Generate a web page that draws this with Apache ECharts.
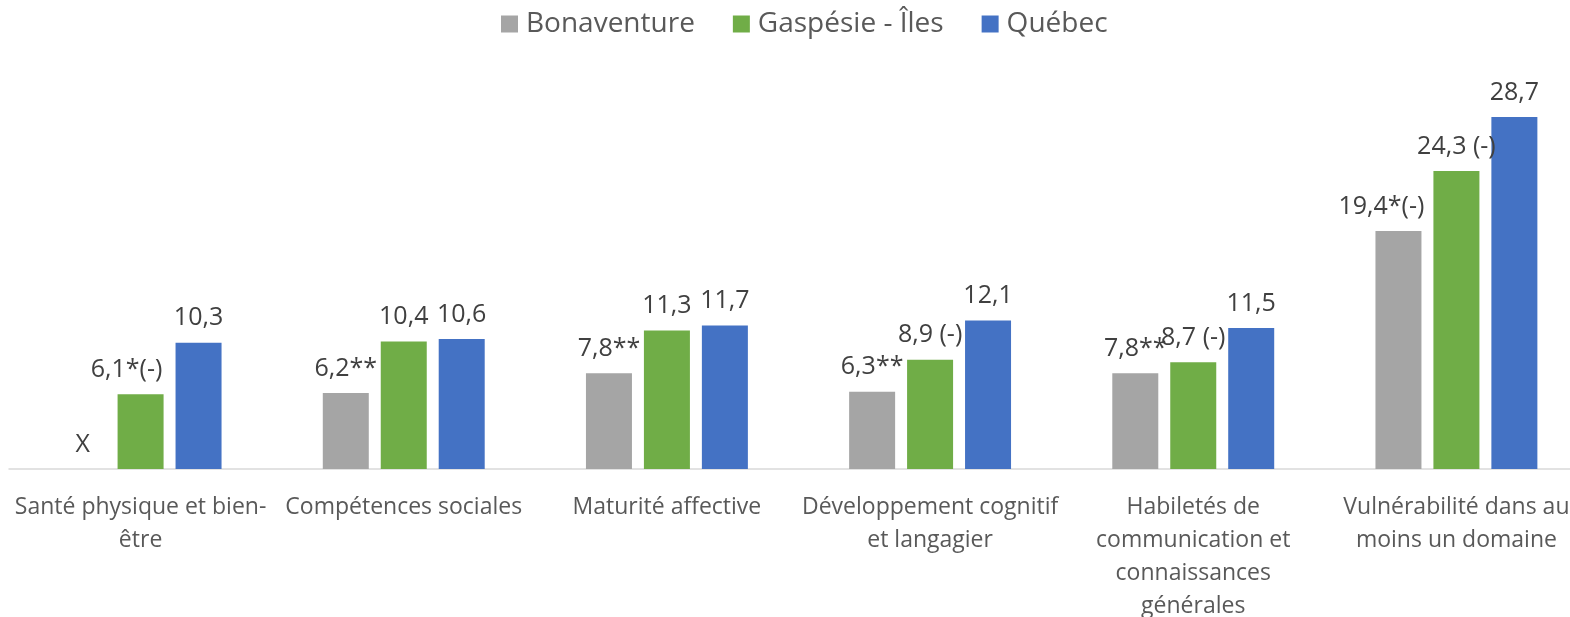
<!DOCTYPE html>
<html>
<head>
<meta charset="utf-8">
<script src="https://cdn.jsdelivr.net/npm/echarts@6/dist/echarts.min.js"></script>
<style>
html,body{margin:0;padding:0;background:#fff;}
#chart{width:1570px;height:617px;}
</style>
</head>
<body>
<div id="chart"></div>
<script>
var categories = [
	'Santé physique et bien-\nêtre',
	'Compétences sociales',
	'Maturité affective',
	'Développement cognitif\net langagier',
	'Habiletés de\ncommunication et\nconnaissances\ngénérales',
	'Vulnérabilité dans au\nmoins un domaine'
];
var seriesNames = ['Bonaventure','Gaspésie - Îles','Québec'];
var bonaventure = [0,6.2,7.8,6.3,7.8,19.4];
var gaspesie = [6.1,10.4,11.3,8.9,8.7,24.3];
var quebec = [10.3,10.6,11.7,12.1,11.5,28.7];
var bonaventureLabels = ['X','6,2**','7,8**','6,3**','7,8**','19,4*(-)'];
var gaspesieLabels = ['6,1*(-)','10,4','11,3','8,9 (-)','8,7 (-)','24,3 (-)'];
var quebecLabels = ['10,3','10,6','11,7','12,1','11,5','28,7'];

var colors = ['#a5a5a5','#70ad47','#4472c4'];
// labels that were nudged left in the original
var labelShift = {'6,1*(-)':-14,'19,4*(-)':-17};

var font = 'Open Sans';
function makeSeries(name,values,labels,color){
	var data = [];
	for(var i=0;i<values.length;i++){
		var item = {value:values[i]};
		var dx = labelShift[labels[i]];
		if(dx){
			item.label = {offset:[dx,0]};
		}
		data.push(item);
	}
	return {
		name:name,
		type:'bar',
		barWidth:46,
		barGap:'26%',
		itemStyle:{color:color},
		label:{
			show:true,
			position:'top',
			distance:12,
			fontFamily:font,
			fontSize:25,
			color:'#404040',
			formatter:function(p){ return labels[p.dataIndex]; }
		},
		data:data
	};
}

var myChart = echarts.init(document.getElementById('chart'));
var option = {
	animation:false,
	legend:{
		top:5,
		left:496,
		itemWidth:17,
		itemHeight:17,
		itemGap:38,
		icon:'rect',
		textStyle:{fontFamily:font,fontSize:28,color:'#595959',padding:[0,0,0,3]},
		data:seriesNames
	},
	grid:{left:9,top:101,width:1579,height:368,outerBoundsMode:'none',containLabel:false},
	xAxis:{
		type:'category',
		data:categories,
		axisLine:{lineStyle:{color:'#d9d9d9',width:1.5}},
		axisTick:{show:false},
		axisLabel:{
			interval:0,
			margin:22,
			fontFamily:font,
			fontSize:23,
			lineHeight:33,
			color:'#595959'
		}
	},
	yAxis:{
		type:'value',
		min:0,
		max:30,
		show:false
	},
	series:[
		makeSeries(seriesNames[0],bonaventure,bonaventureLabels,colors[0]),
		makeSeries(seriesNames[1],gaspesie,gaspesieLabels,colors[1]),
		makeSeries(seriesNames[2],quebec,quebecLabels,colors[2])
	]
};
myChart.setOption(option);
</script>
</body>
</html>
